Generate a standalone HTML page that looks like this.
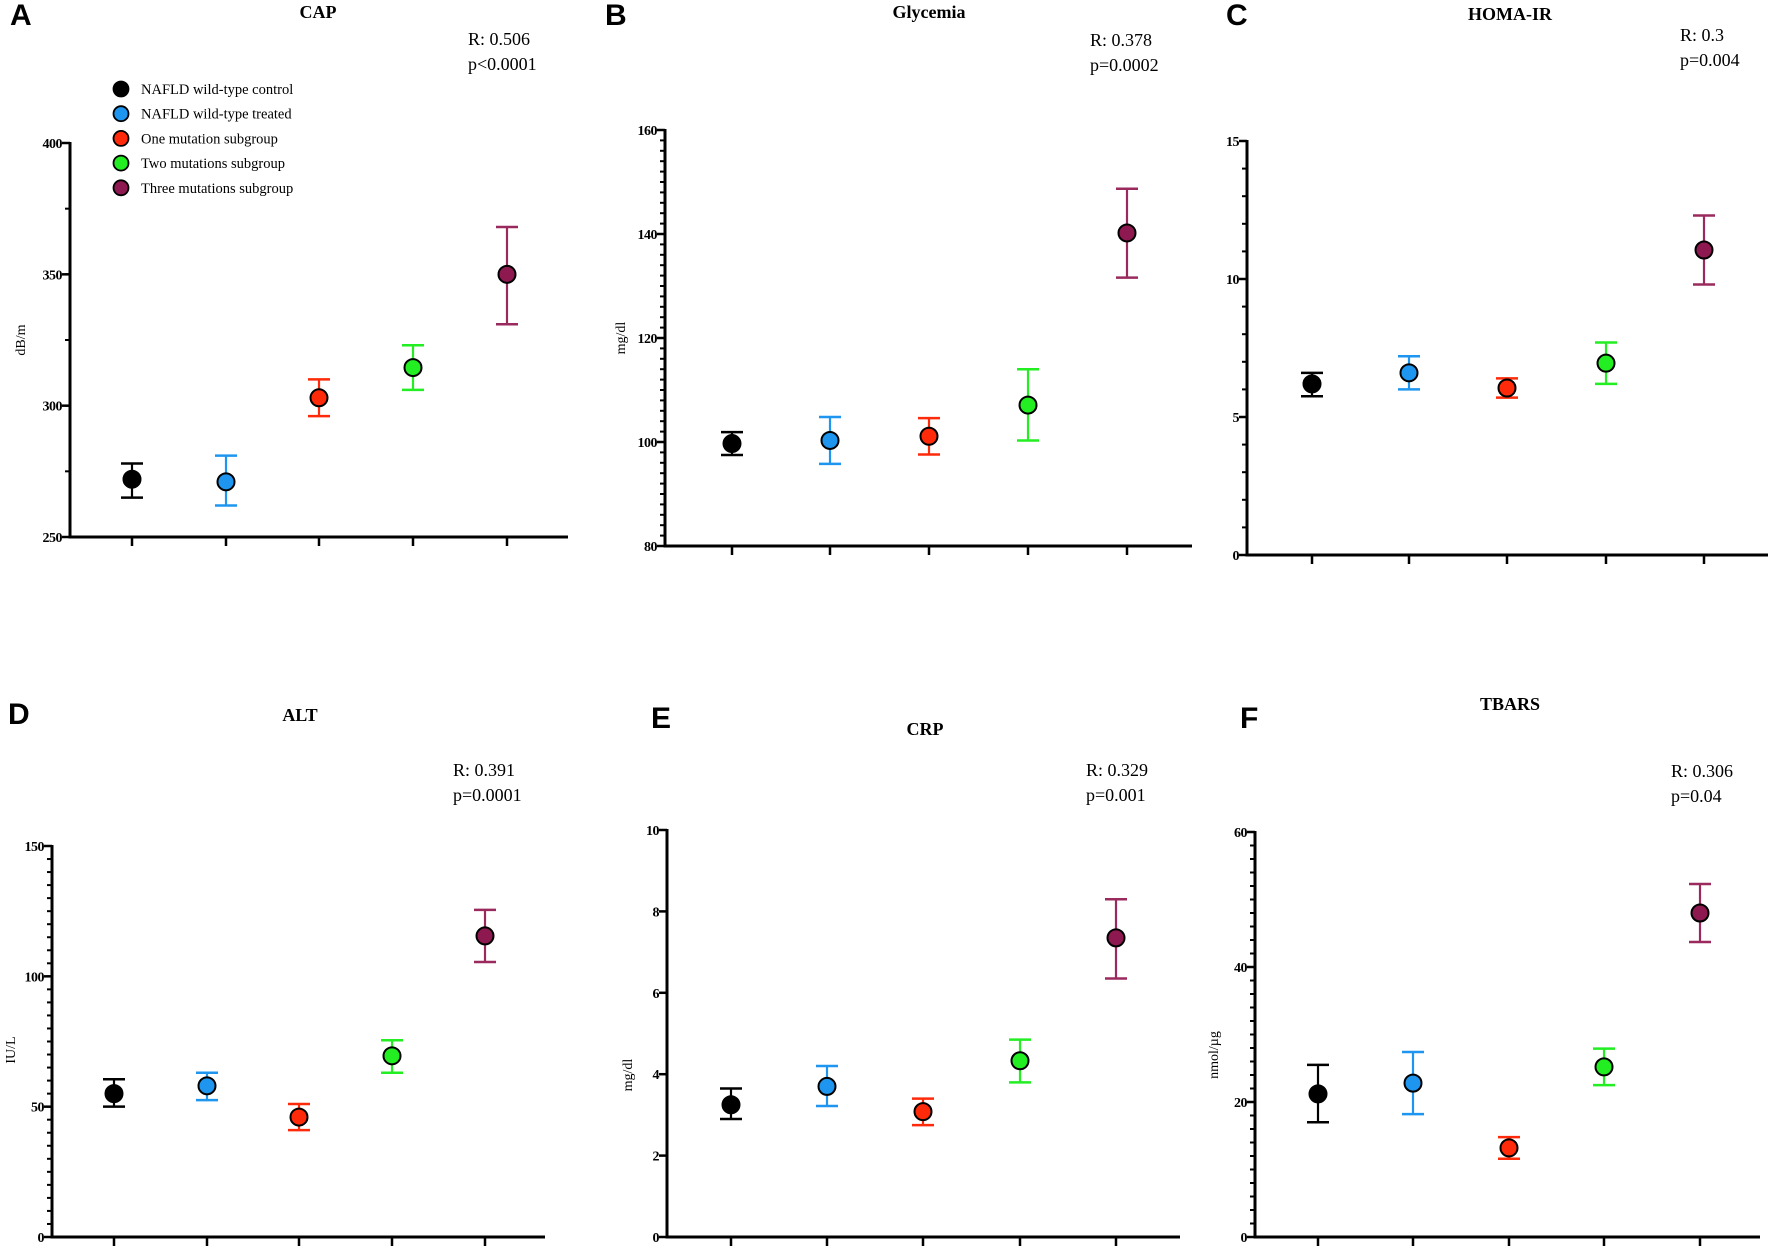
<!DOCTYPE html>
<html><head><meta charset="utf-8"><style>
html,body{margin:0;padding:0;background:#fff;}
svg{display:block;}
text{font-family:"Liberation Serif",serif;}
.tk{font-size:14px;font-weight:bold;text-anchor:end;letter-spacing:-0.5px;}
.ttl{font-size:18px;font-weight:bold;text-anchor:middle;}
.rt{font-size:18px;}
.pl{font-family:"Liberation Sans",sans-serif;font-size:30px;font-weight:bold;}
.yl{font-size:14px;text-anchor:middle;}
.lg{font-size:14.5px;}
</style></head><body>
<svg id="fig" width="1772" height="1250" viewBox="0 0 1772 1250" xmlns="http://www.w3.org/2000/svg"></svg>
<script>
const groups = ["NAFLD wild-type control","NAFLD wild-type treated","One mutation subgroup","Two mutations subgroup","Three mutations subgroup"];
const fillColors = ["#000000","#1e96f0","#ff2a0a","#22ee22","#8e1850"];
const barColors = ["#000000","#1e96f0","#ff2a0a","#22ee22","#9a2a5e"];

const capMean = [272, 271, 303, 314.5, 350];
const capLow  = [265, 262, 296, 306, 331];
const capHigh = [278, 281, 310, 323, 368];
const capTicks = [250, 300, 350, 400];

const glyMean = [99.7, 100.3, 101.1, 107.1, 140.2];
const glyLow  = [97.5, 95.8, 97.6, 100.3, 131.6];
const glyHigh = [101.9, 104.8, 104.6, 114.0, 148.7];
const glyTicks = [80, 100, 120, 140, 160];

const homaMean = [6.2, 6.6, 6.05, 6.95, 11.05];
const homaLow  = [5.75, 6.0, 5.7, 6.2, 9.8];
const homaHigh = [6.6, 7.2, 6.4, 7.7, 12.3];
const homaTicks = [0, 5, 10, 15];

const altMean = [55, 58, 46, 69.5, 115.5];
const altLow  = [50, 52.5, 41, 63, 105.5];
const altHigh = [60.5, 63, 51, 75.5, 125.5];
const altTicks = [0, 50, 100, 150];

const crpMean = [3.25, 3.7, 3.08, 4.33, 7.35];
const crpLow  = [2.9, 3.22, 2.75, 3.8, 6.35];
const crpHigh = [3.65, 4.2, 3.4, 4.85, 8.3];
const crpTicks = [0, 2, 4, 6, 8, 10];

const tbMean = [21.2, 22.8, 13.2, 25.2, 48.0];
const tbLow  = [17.0, 18.2, 11.6, 22.5, 43.7];
const tbHigh = [25.5, 27.4, 14.8, 27.9, 52.3];
const tbTicks = [0, 20, 40, 60];

const NS = "http://www.w3.org/2000/svg";
const svg = document.getElementById("fig");
function mk(tag, attrs, parent){
  const e = document.createElementNS(NS, tag);
  for (const k in attrs) e.setAttribute(k, attrs[k]);
  (parent||svg).appendChild(e);
  return e;
}

const panels = [
 {id:"cap", letter:"A", lx:10, ly:25, title:"CAP", tx:318, ty:18, R:"R: 0.506", P:"p<0.0001", rx:468, ry:45,
  ylab:"dB/m", ylx:25, yly:340, ax:70, ybot:537, ytop:143, min:250, max:400, minor:25,
  xs:[132,226,319,413,507], xend:568, mean:capMean, lo:capLow, hi:capHigh, ticks:capTicks, legend:true},
 {id:"glycemia", letter:"B", lx:605, ly:25, title:"Glycemia", tx:929, ty:18, R:"R: 0.378", P:"p=0.0002", rx:1090, ry:46,
  ylab:"mg/dl", ylx:625, yly:338, ax:665, ybot:546, ytop:130, min:80, max:160, minor:2,
  xs:[732,830,929,1028,1127], xend:1192, mean:glyMean, lo:glyLow, hi:glyHigh, ticks:glyTicks},
 {id:"homa-ir", letter:"C", lx:1226, ly:25, title:"HOMA-IR", tx:1510, ty:20, R:"R: 0.3", P:"p=0.004", rx:1680, ry:41,
  ylab:"", ylx:0, yly:0, ax:1247, ybot:555, ytop:141, min:0, max:15, minor:1,
  xs:[1312,1409,1507,1606,1704], xend:1768, mean:homaMean, lo:homaLow, hi:homaHigh, ticks:homaTicks},
 {id:"alt", letter:"D", lx:8, ly:724, title:"ALT", tx:300, ty:721, R:"R: 0.391", P:"p=0.0001", rx:453, ry:776,
  ylab:"IU/L", ylx:15, yly:1050, ax:52, ybot:1237, ytop:846, min:0, max:150, minor:5,
  xs:[114,207,299,392,485], xend:545, mean:altMean, lo:altLow, hi:altHigh, ticks:altTicks},
 {id:"crp", letter:"E", lx:651, ly:728, title:"CRP", tx:925, ty:735, R:"R: 0.329", P:"p=0.001", rx:1086, ry:776,
  ylab:"mg/dl", ylx:632, yly:1075, ax:667, ybot:1237, ytop:830, min:0, max:10, minor:0,
  xs:[731,827,923,1020,1116], xend:1180, mean:crpMean, lo:crpLow, hi:crpHigh, ticks:crpTicks},
 {id:"tbars", letter:"F", lx:1240, ly:728, title:"TBARS", tx:1510, ty:710, R:"R: 0.306", P:"p=0.04", rx:1671, ry:777,
  ylab:"nmol/µg", ylx:1218, yly:1055, ax:1255, ybot:1237, ytop:832, min:0, max:60, minor:2,
  xs:[1318,1413,1509,1604,1700], xend:1760, mean:tbMean, lo:tbLow, hi:tbHigh, ticks:tbTicks}
];

panels.forEach(p => {
  const g = mk("g", {});
  
  
  const y = v => p.ybot - (v - p.min) / (p.max - p.min) * (p.ybot - p.ytop);

  const L = mk("text", {x:p.lx, y:p.ly, class:"pl"}, g); L.textContent = p.letter;
  
  
  const T = mk("text", {x:p.tx, y:p.ty, class:"ttl"}, g); T.textContent = p.title;
  
  
  const R = mk("text", {x:p.rx, y:p.ry, class:"rt"}, g); R.textContent = p.R;
  
  
  const P = mk("text", {x:p.rx, y:p.ry + 25, class:"rt"}, g); P.textContent = p.P;
  
  
  if (p.ylab) {
    const Y = mk("text", {x:p.ylx, y:p.yly, class:"yl", transform:`rotate(-90 ${p.ylx} ${p.yly})`}, g); Y.textContent = p.ylab;
    
    
  }
  // axes
  const ya = mk("line", {x1:p.ax, y1:p.ytop - 1, x2:p.ax, y2:p.ybot + 1.5, stroke:"#000", "stroke-width":3}, g);
  
  
  const xa = mk("line", {x1:p.ax - 1.5, y1:p.ybot, x2:p.xend, y2:p.ybot, stroke:"#000", "stroke-width":3}, g);
  
  
  if (p.minor) {
    for (let v = p.min; v <= p.max + 1e-9; v += p.minor) {
      const m = mk("line", {x1:p.ax - 5, y1:y(v), x2:p.ax, y2:y(v), stroke:"#000", "stroke-width":2}, g);
      
      
    }
  }
  p.ticks.forEach(t => {
    const tl = mk("line", {x1:p.ax - 8, y1:y(t), x2:p.ax, y2:y(t), stroke:"#000", "stroke-width":2.5}, g);
    
    
    const tt = mk("text", {x:p.ax - 8, y:y(t) + 5, class:"tk"}, g); tt.textContent = t;
    
    
  });
  p.xs.forEach(x => {
    const xt = mk("line", {x1:x, y1:p.ybot, x2:x, y2:p.ybot + 9, stroke:"#000", "stroke-width":2.5}, g);
    
    
  });
  // series
  p.mean.forEach((v, i) => {
    const x = p.xs[i];
    const sg = mk("g", {}, g);
    
    
    mk("line", {x1:x, y1:y(p.lo[i]), x2:x, y2:y(p.hi[i]), stroke:barColors[i], "stroke-width":2.2}, sg);
    mk("line", {x1:x - 11, y1:y(p.hi[i]), x2:x + 11, y2:y(p.hi[i]), stroke:barColors[i], "stroke-width":2.5}, sg);
    mk("line", {x1:x - 11, y1:y(p.lo[i]), x2:x + 11, y2:y(p.lo[i]), stroke:barColors[i], "stroke-width":2.5}, sg);
    mk("circle", {cx:x, cy:y(v), r:8.5, fill:fillColors[i], stroke:"#000", "stroke-width":2}, sg);
  });
  if (p.legend) {
    const lg = mk("g", {}, g);
    
    
    groups.forEach((name, i) => {
      const yy = 89 + i * 24.7;
      const e = mk("g", {}, lg);
      
      
      mk("circle", {cx:121, cy:yy, r:7.5, fill:fillColors[i], stroke:"#000", "stroke-width":1.8}, e);
      const t = mk("text", {x:141, y:yy + 5, class:"lg"}, e); t.textContent = name;
    });
  }
});
</script>
</body></html>
